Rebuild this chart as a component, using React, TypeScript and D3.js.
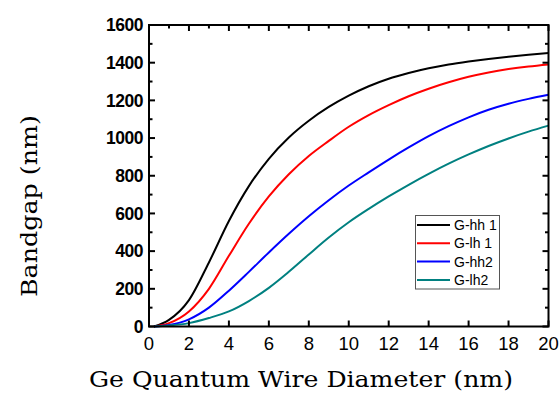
import React, { useEffect, useRef } from 'react';
import * as d3 from 'd3';

// diameters in nm, bandgap values
const diameters = [0.25, 1, 2, 3, 4, 5, 6, 7, 8, 9, 10, 11, 12, 13, 14, 15, 16, 17, 18, 19, 20];
const hh1 = [0, 35, 140, 340, 560, 745, 890, 1003, 1092, 1165, 1225, 1275, 1315, 1345, 1370, 1390, 1406, 1420, 1432, 1442, 1451];
const lh1 = [0, 18, 80, 200, 375, 545, 690, 808, 905, 985, 1060, 1122, 1175, 1222, 1262, 1296, 1325, 1348, 1366, 1380, 1391];
const hh2 = [0, 8, 38, 100, 190, 290, 393, 492, 585, 670, 748, 818, 886, 950, 1010, 1063, 1110, 1150, 1182, 1208, 1230];
const lh2 = [0, 5, 18, 45, 80, 135, 205, 290, 382, 472, 553, 624, 690, 752, 810, 864, 913, 958, 998, 1034, 1066];

const seriesNames = ['G-hh 1', 'G-lh 1', 'G-hh2', 'G-lh2'];
const seriesValues = [hh1, lh1, hh2, lh2];
const seriesColors = ['#000000', '#ff0000', '#0000ff', '#008080'];

const xTicks = [0, 2, 4, 6, 8, 10, 12, 14, 16, 18, 20];
const yTicks = [0, 200, 400, 600, 800, 1000, 1200, 1400, 1600];

const App = () => {
  const ref = useRef(null);

  useEffect(() => {
    const width = 560;
    const height = 397;
    const left = 149, right = 548.5, top = 25, bottom = 326.5;

    d3.select(ref.current).selectAll('*').remove();

    const svg = d3.select(ref.current)
      .append('svg')
      .attr('width', width)
      .attr('height', height)
      .style('display', 'block');

    svg.append('rect').attr('width', width).attr('height', height).attr('fill', 'white');

    const x = d3.scaleLinear().domain([0, 20]).range([left, right]);
    const y = d3.scaleLinear().domain([0, 1600]).range([bottom, top]);

    // curves
    const line = d3.line()
      .x(d => x(d[0]))
      .y(d => y(d[1]))
      .curve(d3.curveMonotoneX);

    seriesValues.forEach((vals, i) => {
      svg.append('path')
        .attr('d', line(diameters.map((dd, j) => [dd, vals[j]])))
        .attr('fill', 'none')
        .attr('stroke', seriesColors[i])
        .attr('stroke-width', 2);
    });

    // ticks, all pointing inward (no minor ticks on the bottom axis)
    const g = svg.append('g').attr('stroke', 'black').attr('stroke-width', 2);
    const minorX = d3.range(1, 20, 2);
    const minorY = d3.range(100, 1600, 200);

    xTicks.forEach(t => {
      g.append('line').attr('x1', x(t)).attr('x2', x(t)).attr('y1', bottom).attr('y2', bottom - 6);
      g.append('line').attr('x1', x(t)).attr('x2', x(t)).attr('y1', top).attr('y2', top + 6);
    });
    minorX.forEach(t => {
      g.append('line').attr('x1', x(t)).attr('x2', x(t)).attr('y1', top).attr('y2', top + 3.5);
    });
    yTicks.forEach(t => {
      g.append('line').attr('x1', left).attr('x2', left + 6).attr('y1', y(t)).attr('y2', y(t));
      g.append('line').attr('x1', right).attr('x2', right - 6).attr('y1', y(t)).attr('y2', y(t));
    });
    minorY.forEach(t => {
      g.append('line').attr('x1', left).attr('x2', left + 3.5).attr('y1', y(t)).attr('y2', y(t));
      g.append('line').attr('x1', right).attr('x2', right - 3.5).attr('y1', y(t)).attr('y2', y(t));
    });

    // frame
    svg.append('rect')
      .attr('x', left).attr('y', top)
      .attr('width', right - left).attr('height', bottom - top)
      .attr('fill', 'none')
      .attr('stroke', 'black')
      .attr('stroke-width', 2);

    // tick labels
    svg.selectAll('.xl')
      .data(xTicks)
      .enter()
      .append('text')
      .attr('x', d => x(d))
      .attr('y', 350)
      .attr('text-anchor', 'middle')
      .style('font-family', 'Liberation Sans, Arial, sans-serif')
      .style('font-size', '18.5px')
      .text(d => d);

    svg.selectAll('.yl')
      .data(yTicks)
      .enter()
      .append('text')
      .attr('x', 143)
      .attr('y', d => y(d) + 6.3)
      .attr('text-anchor', 'end')
      .style('font-family', 'Liberation Sans, Arial, sans-serif')
      .style('font-size', '17.5px')
      .style('font-weight', 'bold')
      .style('letter-spacing', '-0.5px')
      .text(d => d);

    // axis titles
    svg.append('text')
      .attr('x', 89)
      .attr('y', 387)
      .attr('textLength', 424)
      .attr('lengthAdjust', 'spacingAndGlyphs')
      .style('font-family', 'DejaVu Serif, serif')
      .style('font-size', '22px')
      .text('Ge Quantum Wire Diameter (nm)');

    svg.append('text')
      .attr('transform', 'translate(37,297) rotate(-90)')
      .attr('textLength', 182)
      .attr('lengthAdjust', 'spacingAndGlyphs')
      .style('font-family', 'DejaVu Serif, serif')
      .style('font-size', '23px')
      .text('Bandgap (nm)');

    // legend
    const lg = svg.append('g');
    lg.append('rect')
      .attr('x', 415.5).attr('y', 215.5)
      .attr('width', 84).attr('height', 73.5)
      .attr('fill', 'white')
      .attr('stroke', '#555')
      .attr('stroke-width', 1);
    seriesNames.forEach((name, i) => {
      const yy = 225 + i * 18.3;
      lg.append('line')
        .attr('x1', 417).attr('x2', 450)
        .attr('y1', yy).attr('y2', yy)
        .attr('stroke', seriesColors[i])
        .attr('stroke-width', 2);
      lg.append('text')
        .attr('x', 454)
        .attr('y', yy + 5)
        .style('font-family', 'Liberation Sans, Arial, sans-serif')
        .style('font-size', '14px')
        .text(name);
    });
  }, []);

  return (
    <div ref={ref} style={{ position: 'absolute', left: 0, top: 0 }}></div>
  );
};

export default App;
